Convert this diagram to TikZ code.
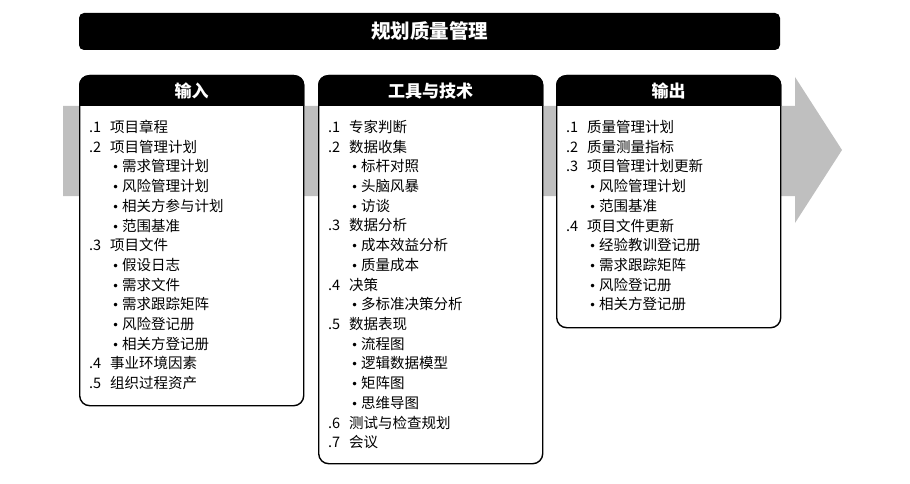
\documentclass[tikz,border=0pt]{standalone}
\usepackage{fontspec}
\setmainfont{Noto Sans CJK SC}
\newfontfamily\bulletfont{DejaVu Sans}
\usepackage{tikz}
\usetikzlibrary{calc, positioning}

\definecolor{bandgray}{RGB}{191,191,191}

% one line in a panel: number item and bullet item
\newcommand{\nitem}[2]{\makebox[21pt][l]{#1}#2}
\newcommand{\bitem}[1]{\hspace{23pt}\makebox[10pt][l]{\bulletfont\fontsize{12}{12}\selectfont •}#1}

\tikzset{
    panel/.style={draw, line width=1.4pt, rounded corners=10pt, fill=white,
        anchor=north west, minimum width=224pt, inner sep=0pt},
    headtext/.style={text=white, font=\bfseries\fontsize{17}{17}\selectfont},
    entry/.style={anchor=west, inner sep=0pt, font=\fontsize{14.5}{14.5}\selectfont}
}

\begin{document}
\begin{tikzpicture}[x=1pt, y=-1pt]
    \useasboundingbox (0,0) rectangle (910,484);

    % the big gray arrow behind the panels
    \fill[bandgray] (63,106) -- (795,106) -- (795,77) -- (842,150)
        -- (795,223) -- (795,196) -- (63,196) -- cycle;

    % title bar
    \node[fill=black, rounded corners=5pt, minimum width=701pt, minimum height=37pt,
        text=white, font=\bfseries\fontsize{19.5}{19.5}\selectfont] (title) at (429.5,31.5) {规划质量管理};

    % the three panels
    \node[panel, minimum height=330pt] (in) at (79,75) {};
    \node[panel, minimum height=388pt] (tt) at (318,75) {};
    \node[panel, minimum height=252pt] (out) at (556,75) {};

    \fill[black] ([yshift=-31pt]in.north west) [rounded corners=10pt] -- (in.north west)
        -- (in.north east) [sharp corners] -- ([yshift=-31pt]in.north east) -- cycle;
    \fill[black] ([yshift=-31pt]tt.north west) [rounded corners=10pt] -- (tt.north west)
        -- (tt.north east) [sharp corners] -- ([yshift=-31pt]tt.north east) -- cycle;
    \fill[black] ([yshift=-31pt]out.north west) [rounded corners=10pt] -- (out.north west)
        -- (out.north east) [sharp corners] -- ([yshift=-31pt]out.north east) -- cycle;

    \node[headtext] (inhd) at ([yshift=-16pt]in.north) {输入};
    \node[headtext] (tthd) at ([yshift=-16pt]tt.north) {工具与技术};
    \node[headtext] (outhd) at ([yshift=-16pt]out.north) {输出};

    % inputs
    \foreach \t [count=\i] in {\nitem{.1}{项目章程}, \nitem{.2}{项目管理计划},
        \bitem{需求管理计划}, \bitem{风险管理计划}, \bitem{相关方参与计划}, \bitem{范围基准},
        \nitem{.3}{项目文件}, \bitem{假设日志}, \bitem{需求文件}, \bitem{需求跟踪矩阵},
        \bitem{风险登记册}, \bitem{相关方登记册}, \nitem{.4}{事业环境因素}, \nitem{.5}{组织过程资产}}
        \node[entry] (in\i) at ([xshift=10pt, yshift={-52pt-(\i-1)*19.7pt}]in.north west) {\t};

    % tools and techniques
    \foreach \t [count=\i] in {\nitem{.1}{专家判断}, \nitem{.2}{数据收集},
        \bitem{标杆对照}, \bitem{头脑风暴}, \bitem{访谈}, \nitem{.3}{数据分析},
        \bitem{成本效益分析}, \bitem{质量成本}, \nitem{.4}{决策}, \bitem{多标准决策分析},
        \nitem{.5}{数据表现}, \bitem{流程图}, \bitem{逻辑数据模型}, \bitem{矩阵图},
        \bitem{思维导图}, \nitem{.6}{测试与检查规划}, \nitem{.7}{会议}}
        \node[entry] (tt\i) at ([xshift=10pt, yshift={-52pt-(\i-1)*19.7pt}]tt.north west) {\t};

    % outputs
    \foreach \t [count=\i] in {\nitem{.1}{质量管理计划}, \nitem{.2}{质量测量指标},
        \nitem{.3}{项目管理计划更新}, \bitem{风险管理计划}, \bitem{范围基准},
        \nitem{.4}{项目文件更新}, \bitem{经验教训登记册}, \bitem{需求跟踪矩阵},
        \bitem{风险登记册}, \bitem{相关方登记册}}
        \node[entry] (out\i) at ([xshift=10pt, yshift={-52pt-(\i-1)*19.7pt}]out.north west) {\t};
\end{tikzpicture}
\end{document}
